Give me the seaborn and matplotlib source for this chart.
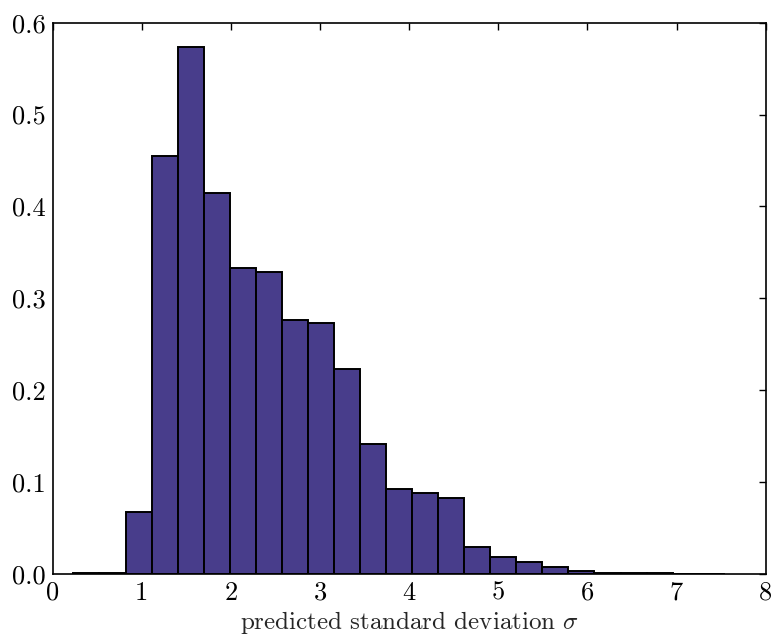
import numpy as np
import pandas as pd
import matplotlib
matplotlib.use('Agg')
import matplotlib.pyplot as plt
import seaborn as sns

# ── Data (density per bin) ─────────────────────────────────────────────────────
bin_start = 0.234
bin_stop = 7.54
n_bins = 25
density = [0.0012, 0.0015, 0.0675, 0.455, 0.574, 0.4146, 0.3332, 0.3285,
           0.2766, 0.273, 0.2229, 0.1416, 0.0929, 0.0885, 0.0828, 0.0297,
           0.0182, 0.0131, 0.008, 0.0033, 0.001, 0.0008, 0.0006, 0.0004, 0.0003]
x_ticks = [0, 1, 2, 3, 4, 5, 6, 7, 8]
y_ticks = [0.0, 0.1, 0.2, 0.3, 0.4, 0.5, 0.6]

edges = np.linspace(bin_start, bin_stop, n_bins + 1)
centers = (edges[:-1] + edges[1:]) / 2
df = pd.DataFrame({'sigma': centers, 'density': density})

# ── Style ──────────────────────────────────────────────────────────────────────
sns.set_theme(style='white')
plt.rcParams.update({
    'font.family': 'serif',
    'font.serif': ['cmr10', 'DejaVu Serif'],
    'mathtext.fontset': 'cm',
    'axes.formatter.use_mathtext': True,
    'axes.edgecolor': 'black',
    'axes.linewidth': 1.2,
    'xtick.direction': 'in',
    'ytick.direction': 'in',
    'xtick.top': True,
    'ytick.right': True,
    'xtick.major.size': 5,
    'ytick.major.size': 5,
    'xtick.major.width': 1,
    'ytick.major.width': 1,
    'xtick.color': 'black',
    'ytick.color': 'black',
})

fig = plt.figure(figsize=(7.73, 6.38), dpi=100)
ax = fig.add_axes([0.068, 0.1003, 0.9226, 0.8641])

sns.histplot(data=df, x='sigma', weights='density', bins=list(edges),
             stat='count', color='#483D8B', alpha=1.0, edgecolor='black',
             linewidth=1.4, ax=ax)

ax.set_xlim(0, 8)
ax.set_ylim(0, 0.6)
ax.set_xticks(x_ticks)
ax.set_yticks(y_ticks)
ax.set_xticklabels([str(t) for t in x_ticks], fontsize=19)
ax.set_yticklabels([f'{t:.1f}' for t in y_ticks], fontsize=19)
ax.tick_params(axis='x', pad=5)
ax.tick_params(axis='y', pad=5)
ax.set_xlabel(r'predicted standard deviation $\sigma$', fontsize=18, labelpad=3)
ax.set_ylabel('')

fig.savefig('out.png', dpi=100)
